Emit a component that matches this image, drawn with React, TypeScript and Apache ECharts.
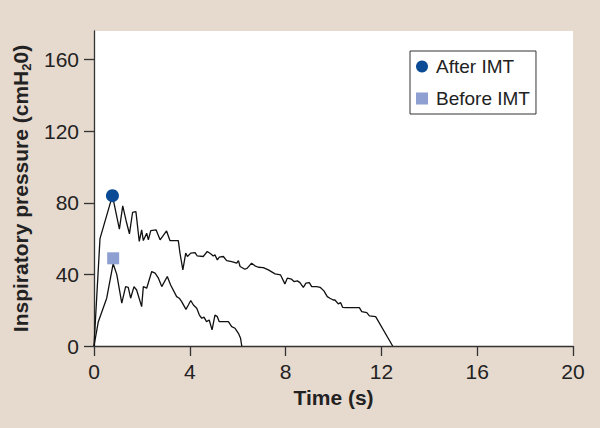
import { useEffect, useRef } from "react";
import * as echarts from "echarts";

// Time (s) and inspiratory pressure (cmH2O) traces
const timeAfter = [0, 0.25, 0.77, 1.06, 1.2, 1.34, 1.48, 1.61, 1.75, 1.89, 1.99, 2.06, 2.2, 2.27, 2.37, 2.59, 2.76, 3.03, 3.17, 3.52, 3.59, 3.71, 3.83, 3.9, 4.04, 4.22, 4.31, 4.56, 4.73, 4.87, 4.98, 5.05, 5.15, 5.23, 5.4, 5.54, 5.75, 5.96, 6.03, 6.1, 6.3, 6.4, 6.58, 6.72, 6.86, 7.07, 7.28, 7.56, 7.79, 7.97, 8.07, 8.25, 8.35, 8.49, 8.6, 8.74, 8.85, 8.99, 9.09, 9.3, 9.44, 9.6, 9.74, 9.85, 9.99, 10.06, 10.2, 10.3, 10.38, 10.52, 11.08, 11.18, 11.39, 11.5, 11.76, 12.47];
const pressureAfter = [0, 60, 84, 65.3, 78.3, 70, 62.7, 74.6, 75.1, 58.4, 64.9, 58.9, 63, 59.3, 64.5, 64.9, 59.3, 64.3, 58.9, 58.9, 51.9, 42.5, 51.9, 50, 51.9, 52.2, 50.3, 50, 52.8, 51.5, 50.3, 50.9, 48.1, 49.6, 50, 47.7, 47.2, 46.3, 47.7, 44.4, 42.9, 43.5, 46.3, 44.8, 44, 43.8, 42.5, 40.3, 39.7, 34.7, 37.9, 37.3, 36, 36.4, 35.4, 32.8, 35.1, 35.4, 33.2, 33.2, 32.8, 30.8, 27.6, 26.7, 25.7, 25.7, 23.5, 24.2, 21.6, 21.4, 21.4, 19.2, 18.6, 16.8, 16.4, 0];

const timeBefore = [0, 0.18, 0.53, 0.8, 0.95, 1.16, 1.32, 1.43, 1.53, 1.67, 1.78, 1.99, 2.06, 2.2, 2.41, 2.55, 2.69, 2.83, 3.06, 3.2, 3.45, 3.56, 3.66, 3.84, 3.94, 4.04, 4.15, 4.29, 4.4, 4.5, 4.59, 4.7, 4.81, 4.93, 5.05, 5.15, 5.23, 5.61, 5.75, 5.89, 6.03, 6.12, 6.17];
const pressureBefore = [0, 13.6, 26.7, 46, 40, 23.9, 33.2, 32.8, 26.7, 33.2, 31.3, 22, 33.2, 32.3, 41.6, 40.7, 37.9, 33.2, 38.8, 34.1, 27.6, 26.7, 24.8, 20.5, 22.9, 25.4, 22.9, 21.1, 17.3, 15.5, 16.1, 13.6, 14.5, 9, 17.3, 16.4, 13.6, 13.6, 10.8, 9.9, 7.1, 4.3, 0];

const legendNames = ["After IMT", "Before IMT"];
const peakAfter = [0.77, 84];
const peakBefore = [0.8, 49];
const xTicks = [0, 4, 8, 12, 16, 20];
const yTicks = [0, 40, 80, 120, 160];

const FONT = "'Liberation Sans', Arial, Helvetica, sans-serif";

export default function App() {
  const ref = useRef<HTMLDivElement>(null);
  useEffect(() => {
    if (!ref.current) return;
    const chart = echarts.init(ref.current, null, { renderer: "svg" });
    const zip = (xs: number[], ys: number[]) => xs.map((x, i) => [x, ys[i]]);
    const axisColor = "#333";
    chart.setOption({
      animation: false,
      backgroundColor: "#e6d9ce",
      textStyle: { fontFamily: FONT },
      grid: {
        left: 94,
        right: 27,
        top: 31,
        bottom: 82,
        show: true,
        backgroundColor: "#ffffff",
        borderWidth: 0,
      },
      legend: {
        data: [
          { name: legendNames[0], icon: "circle" },
          { name: legendNames[1], icon: "rect" },
        ],
        orient: "vertical",
        left: 410,
        top: 51,
        itemWidth: 12,
        itemHeight: 12,
        itemGap: 13,
        padding: [6, 6, 6, 6],
        backgroundColor: "#ffffff",
        borderColor: "#333",
        borderWidth: 1,
        textStyle: { fontSize: 19, lineHeight: 19, color: "#222", fontFamily: FONT, padding: [0, 0, 0, 3] },
      },
      xAxis: {
        type: "value",
        min: xTicks[0],
        max: xTicks[xTicks.length - 1],
        interval: 4,
        name: "Time (s)",
        nameLocation: "middle",
        nameGap: 40,
        nameTextStyle: { fontSize: 21, fontWeight: "bold", color: "#222", lineHeight: 21, fontFamily: FONT },
        axisLine: { show: true, onZero: false, lineStyle: { color: axisColor, width: 1.3 } },
        axisTick: { show: true, length: 10, lineStyle: { color: axisColor, width: 1.3 } },
        axisLabel: { fontSize: 21, color: "#222", margin: 15, lineHeight: 21, fontFamily: FONT },
        splitLine: { show: false },
      },
      yAxis: {
        type: "value",
        min: 0,
        max: 176,
        interval: 40,
        name: "{a|Inspiratory pressure (cmH}{b|2}{a|0)}",
        nameLocation: "middle",
        nameGap: 58,
        nameTextStyle: {
          rich: {
            a: { fontSize: 21, fontWeight: "bold", color: "#222", lineHeight: 26, verticalAlign: "middle", fontFamily: FONT },
            b: { fontSize: 13, fontWeight: "bold", color: "#222", lineHeight: 13, verticalAlign: "bottom", fontFamily: FONT },
          },
        },
        axisLine: { show: true, onZero: false, lineStyle: { color: axisColor, width: 1.3 } },
        axisTick: { show: true, length: 10, customValues: yTicks, lineStyle: { color: axisColor, width: 1.3 } },
        axisLabel: { fontSize: 21, color: "#222", margin: 15, customValues: yTicks, fontFamily: FONT },
        splitLine: { show: false },
      },
      series: [
        {
          name: "after-trace",
          type: "line",
          data: zip(timeAfter, pressureAfter),
          showSymbol: false,
          lineStyle: { color: "#111", width: 1.3 },
          z: 2,
        },
        {
          name: "before-trace",
          type: "line",
          data: zip(timeBefore, pressureBefore),
          showSymbol: false,
          lineStyle: { color: "#111", width: 1.3 },
          z: 2,
        },
        {
          name: legendNames[0],
          type: "scatter",
          data: [peakAfter],
          symbol: "circle",
          symbolSize: 13,
          itemStyle: { color: "#0b4a94", opacity: 1 },
          z: 5,
        },
        {
          name: legendNames[1],
          type: "scatter",
          data: [peakBefore],
          symbol: "rect",
          symbolSize: 12,
          itemStyle: { color: "#8e9fd1", opacity: 1 },
          z: 5,
        },
      ],
    });
    return () => chart.dispose();
  }, []);
  return <div ref={ref} style={{ position: "absolute", left: 0, top: 0, width: 600, height: 428 }} />;
}
